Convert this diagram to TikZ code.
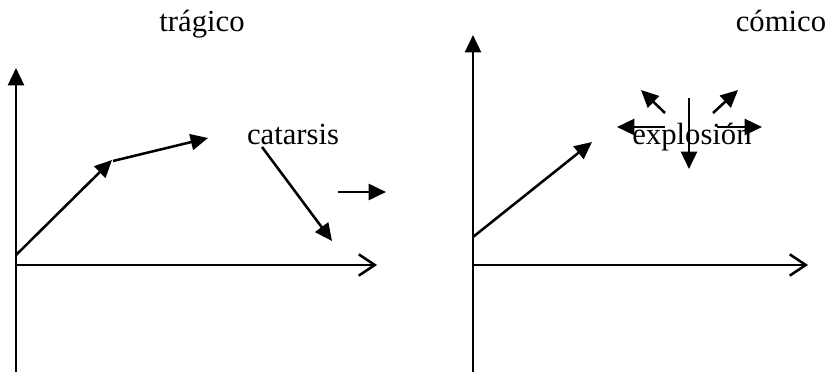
\documentclass[tikz,border=0pt]{standalone}
\usepackage{fontspec}
\setmainfont{Liberation Serif}
\usetikzlibrary{arrows.meta}

\begin{document}
\begin{tikzpicture}[x=0.75pt,y=-0.75pt,line width=1.9pt,
  vec/.style={-{Triangle[length=13pt,width=12pt]}},
  axis/.style={-{Straight Barb[length=12pt,width=16pt]}},
  lbl/.style={font=\fontsize{23}{28}\selectfont,inner sep=0pt,anchor=base}]
\useasboundingbox (0,0) rectangle (828,377);
% left: tragico
\node[lbl] (trag) at (202,32) {trágico};
\draw[vec] (16,372)--(16,68);
\draw[axis] (16,265)--(377,265);
\draw[vec] (16,255)--(112,160);
\draw[vec] (113,161)--(208,138);
\node[lbl] (cat) at (293,145) {catarsis};
\draw[vec] (262,147)--(332,241);
\draw[vec] (338,192)--(386,192);
% right: comico
\node[lbl] (com) at (781,32) {cómico};
\draw[vec] (473,372)--(473,35);
\draw[axis] (473,265)--(808,265);
\draw[vec] (473,237)--(592,142);
\node[lbl] (expl) at (692,145) {explosión};
\draw[vec] (665,127)--(617,127);
\draw[vec] (717,127)--(762,127);
\draw[vec] (689,98)--(689,169);
\draw[vec] (665,113)--(641,90);
\draw[vec] (713,113)--(738,90);
\end{tikzpicture}
\end{document}
